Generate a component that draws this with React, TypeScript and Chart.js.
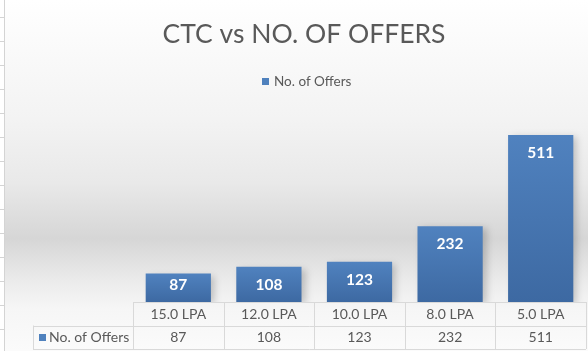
import React, { useEffect, useRef } from "react";
import { Chart, registerables } from "chart.js";

Chart.register(...registerables);

const title = "CTC vs NO. OF OFFERS";
const seriesName = "No. of Offers";
const categories = ["15.0 LPA", "12.0 LPA", "10.0 LPA", "8.0 LPA", "5.0 LPA"];
const offers = [87, 108, 123, 232, 511];
const yMax = 600;

const FONT = "Lato, 'Open Sans', sans-serif";
const TEXT = "#595959";
const LINE = "#d9d9d9";
const BLUE = "#4f81bd";

const decorPlugin = {
  id: "decor",
  beforeDraw(chart: any) {
    const ctx = chart.ctx as CanvasRenderingContext2D;
    const W = chart.width, H = chart.height;
    ctx.save();
    ctx.fillStyle = "#ffffff";
    ctx.fillRect(0, 0, W, H);
    const g = ctx.createLinearGradient(0, 0, 0, H);
    g.addColorStop(0, "#ffffff");
    g.addColorStop(0.34, "#f3f3f3");
    g.addColorStop(0.52, "#e9e9e9");
    g.addColorStop(0.68, "#d6d6d6");
    g.addColorStop(0.8, "#ebebeb");
    g.addColorStop(0.88, "#f6f6f6");
    g.addColorStop(1, "#fbfbfb");
    ctx.fillStyle = g;
    ctx.fillRect(5, 0, W - 5, H);
    // spreadsheet grid at the left edge
    ctx.strokeStyle = "#d4d4d4";
    ctx.lineWidth = 1;
    ctx.beginPath();
    ctx.moveTo(4.5, 0);
    ctx.lineTo(4.5, H);
    for (let y = 17.5; y < H; y += 24) {
      ctx.moveTo(0, y);
      ctx.lineTo(4, y);
    }
    ctx.stroke();
    // title
    ctx.fillStyle = TEXT;
    ctx.font = `400 26.5px ${FONT}`;
    ctx.textAlign = "center";
    ctx.textBaseline = "alphabetic";
    ctx.fillText(title, 304, 43);
    // legend
    ctx.fillStyle = BLUE;
    ctx.fillRect(262, 78, 7, 7);
    ctx.fillStyle = TEXT;
    ctx.font = `13.5px ${FONT}`;
    ctx.textAlign = "left";
    ctx.textBaseline = "middle";
    ctx.fillText(seriesName, 274, 82);
    ctx.restore();
  },
  beforeDatasetsDraw(chart: any) {
    const ctx = chart.ctx as CanvasRenderingContext2D;
    ctx.save();
    ctx.shadowColor = "rgba(0,0,0,0.2)";
    ctx.shadowBlur = 7;
    ctx.shadowOffsetX = 4;
    ctx.shadowOffsetY = 2;
  },
  afterDatasetsDraw(chart: any) {
    const ctx = chart.ctx as CanvasRenderingContext2D;
    ctx.restore();
    ctx.save();
    const meta = chart.getDatasetMeta(0);
    ctx.fillStyle = "#ffffff";
    ctx.font = `bold 15.5px ${FONT}`;
    ctx.textAlign = "center";
    ctx.textBaseline = "middle";
    meta.data.forEach((bar: any, i: number) => {
      const y = Math.min(bar.y + 18, bar.base - 17);
      ctx.fillText(String(offers[i]), bar.x, y);
    });
    ctx.restore();
  },
  afterDraw(chart: any) {
    const ctx = chart.ctx as CanvasRenderingContext2D;
    const area = chart.chartArea;
    const xs = chart.scales.x;
    const n = categories.length;
    const step = (area.right - area.left) / n;
    const top = area.bottom;
    const mid = top + 23.5;
    const bot = mid + 23.5;
    const legendLeft = 33;
    ctx.save();
    ctx.strokeStyle = LINE;
    ctx.lineWidth = 1;
    ctx.beginPath();
    ctx.moveTo(area.left, Math.round(top) + 0.5);
    ctx.lineTo(area.right, Math.round(top) + 0.5);
    ctx.moveTo(legendLeft, Math.round(mid) + 0.5);
    ctx.lineTo(area.right, Math.round(mid) + 0.5);
    ctx.moveTo(legendLeft, Math.round(bot) + 0.5);
    ctx.lineTo(area.right, Math.round(bot) + 0.5);
    for (let i = 0; i <= n; i++) {
      const x = Math.round(area.left + i * step) + 0.5;
      ctx.moveTo(x, top);
      ctx.lineTo(x, bot);
    }
    ctx.moveTo(legendLeft + 0.5, mid);
    ctx.lineTo(legendLeft + 0.5, bot);
    ctx.stroke();

    ctx.fillStyle = TEXT;
    ctx.font = `14px ${FONT}`;
    ctx.textAlign = "center";
    ctx.textBaseline = "middle";
    categories.forEach((c, i) => {
      const x = xs.getPixelForValue(i);
      ctx.fillText(c, x, (top + mid) / 2 + 0.5);
      ctx.fillText(String(offers[i]), x, (mid + bot) / 2 + 0.5);
    });
    ctx.fillStyle = BLUE;
    ctx.fillRect(39, Math.round((mid + bot) / 2) - 3, 7, 7);
    ctx.fillStyle = TEXT;
    ctx.textAlign = "left";
    ctx.fillText(seriesName, 49, (mid + bot) / 2 + 0.5);
    ctx.restore();
  },
};

export default function App() {
  const ref = useRef<HTMLCanvasElement | null>(null);
  useEffect(() => {
    document.body.style.margin = "0";
    const canvas = ref.current!;
    const chart = new Chart(canvas, {
      type: "bar",
      data: {
        labels: categories,
        datasets: [
          {
            label: seriesName,
            data: offers,
            categoryPercentage: 1,
            barPercentage: 0.72,
            borderWidth: 0,
            backgroundColor: (c: any) => {
              const ch = c.chart;
              if (!ch.chartArea || c.raw == null) return BLUE;
              const ys = ch.scales.y;
              const t = ys.getPixelForValue(c.raw);
              const b = ys.getPixelForValue(0);
              const g = ch.ctx.createLinearGradient(0, t, 0, b);
              g.addColorStop(0, "#5082bf");
              g.addColorStop(1, "#3d69a2");
              return g;
            },
          },
        ],
      },
      options: {
        responsive: false,
        devicePixelRatio: 1,
        animation: false,
        layout: { padding: { left: 133, right: 2, top: 106, bottom: 49 } },
        plugins: {
          legend: { display: false },
          title: { display: false },
          tooltip: { enabled: false },
        },
        scales: {
          x: { type: "category", display: false, offset: true },
          y: { display: false, min: 0, max: yMax },
        },
      },
      plugins: [decorPlugin],
    });
    return () => chart.destroy();
  }, []);
  return <canvas ref={ref} width={588} height={351} style={{ display: "block" }} />;
}
